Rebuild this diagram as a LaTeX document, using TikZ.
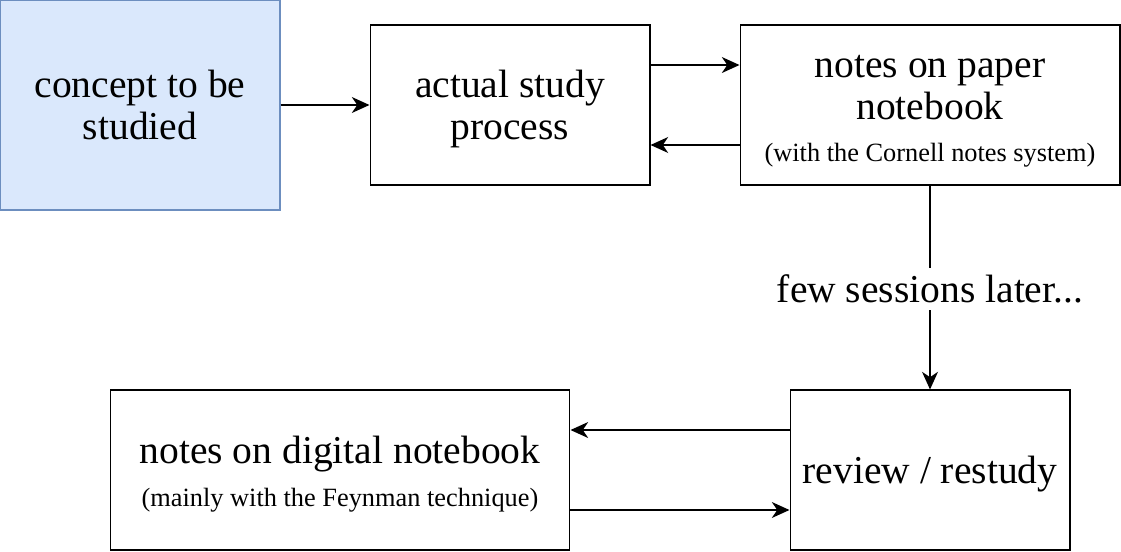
\documentclass[tikz,border=0pt]{standalone}
\usepackage{fontspec}
\setmainfont{Liberation Serif}
\usepackage{tikz}
\usetikzlibrary{positioning,calc,arrows.meta}
\definecolor{boxblue}{HTML}{DAE8FC}
\definecolor{edgeblue}{HTML}{6C8EBF}
\newcommand{\relation}[3][]
{
	\path [draw, line width=1.3pt, -{Stealth[length=10pt,width=9pt,inset=3pt]}, #1] (#2) -- (#3);
}
\newcommand{\mybox}[5][]{
	\node [draw, line width=0.6pt, align=center, inner sep=0pt,
		font=\fontsize{22.5}{24}\selectfont, #1] (#2) at (#3, #4) {#5};
}
\newcommand{\smalltext}{\fontsize{15}{17}\selectfont}
% drop the depth of a line, so that the text sits a bit lower
\newcommand{\nodp}[1]{\raisebox{0pt}[\height][0pt]{#1}}

\begin{document}
\begin{tikzpicture}[x=0.02cm, y=-0.02cm]
		\useasboundingbox (0,0) rectangle (1121,551);
		\mybox[fill=boxblue, draw=edgeblue, minimum width=5.6cm, minimum height=4.2cm]{concept}{140}{105}{concept to be\\studied}
		\mybox[minimum width=5.6cm, minimum height=3.2cm]{study}{510}{105}{actual study\\\nodp{process}}
		\mybox[minimum width=7.6cm, minimum height=3.2cm]{paper}{930}{105}{\rule{0pt}{20pt}notes on paper\\notebook\\[0pt]{\smalltext (with the Cornell notes system)}}
		\mybox[minimum width=5.6cm, minimum height=3.2cm]{review}{930}{470}{\nodp{review / restudy}}
		\mybox[minimum width=9.2cm, minimum height=3.2cm]{digital}{340}{470}{\rule{0pt}{20.5pt}notes on digital notebook\\[0.5pt]{\smalltext (mainly with the Feynman technique)}}
		% arrows between the boxes
		\relation{concept}{study}
		\relation{[yshift=0.8cm]study.east}{[yshift=0.8cm]paper.west}
		\relation{[yshift=-0.8cm]paper.west}{[yshift=-0.8cm]study.east}
		\relation{[yshift=0.8cm]review.west}{[yshift=0.8cm]digital.east}
		\relation{[yshift=-0.8cm]digital.east}{[yshift=-0.8cm]review.west}
		\relation{paper}{review}
		\node [fill=white, inner xsep=2pt, inner ysep=4pt, font=\fontsize{22.5}{24}\selectfont] (later) at (930, 289) {few sessions later...};
		\end{tikzpicture}
\end{document}
